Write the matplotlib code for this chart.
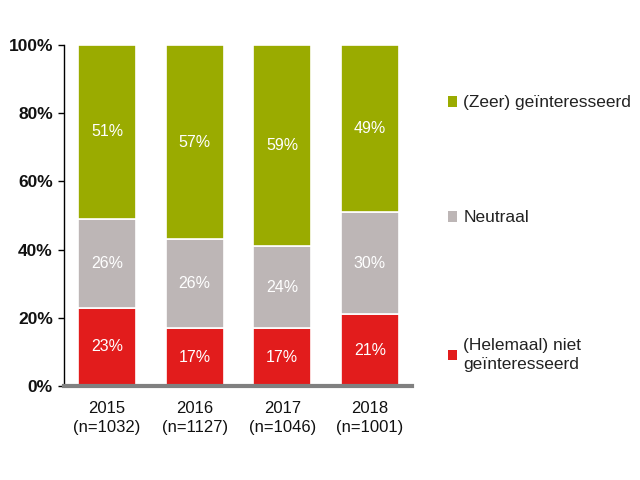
import matplotlib
matplotlib.use("Agg")
import matplotlib.pyplot as plt
from matplotlib.patches import Patch

plt.rcParams['font.family'] = ['Liberation Sans', 'DejaVu Sans']

years = ["2015\n(n=1032)", "2016\n(n=1127)", "2017\n(n=1046)", "2018\n(n=1001)"]
niet = [23, 17, 17, 21]
neutraal = [26, 26, 24, 30]
zeer = [51, 57, 59, 49]
series_names = ["(Helemaal) niet\ngeïnteresseerd", "Neutraal", "(Zeer) geïnteresseerd"]
colors = ["#e21c1c", "#bdb6b6", "#9aab00"]
yticks = [0, 20, 40, 60, 80, 100]

fig = plt.figure(figsize=(6.4, 4.8), dpi=100)
ax = fig.add_axes([64/640, 1-386/480, 348/640, 341/480])

x = list(range(len(years)))
bottom = [0]*len(years)
for vals, col in zip([niet, neutraal, zeer], colors):
    ax.bar(x, vals, width=0.66, bottom=bottom, color=col, edgecolor="white", linewidth=1.2, zorder=2)
    for xi, v, b in zip(x, vals, bottom):
        ax.text(xi, b + v/2, f"{v}%", ha="center", va="center", color="white", fontsize=11.5)
    bottom = [b + v for b, v in zip(bottom, vals)]

ax.set_ylim(0, 100)
ax.set_xlim(-0.49, 3.48)
ax.set_yticks(yticks)
ax.set_yticklabels([f"{t}%" for t in yticks], fontsize=12.5, fontweight="bold", color="#111111")
ax.set_xticks(x)
ax.set_xticklabels(years, fontsize=12, color="#111111", linespacing=1.35)
ax.tick_params(axis="x", length=0, pad=11)
ax.tick_params(axis="y", length=4, width=1, direction="out", pad=4)
for s in ["top", "right"]:
    ax.spines[s].set_visible(False)
ax.spines["left"].set_color("black")
ax.spines["left"].set_linewidth(1)
ax.spines["bottom"].set_color("#808080")
ax.spines["bottom"].set_linewidth(3)

legend_y = [355, 218, 103]
for name, col, yy in zip(series_names, colors, legend_y):
    leg = fig.legend(handles=[Patch(facecolor=col, edgecolor="none")], labels=[name],
                     loc="center left", bbox_to_anchor=(432/640, 1-yy/480), frameon=False,
                     fontsize=12.5, handlelength=0.55, handleheight=0.55, handletextpad=0.35,
                     labelcolor="#222222")
    for t in leg.get_texts():
        t.set_linespacing(1.3)

fig.savefig("out.png", dpi=100)
